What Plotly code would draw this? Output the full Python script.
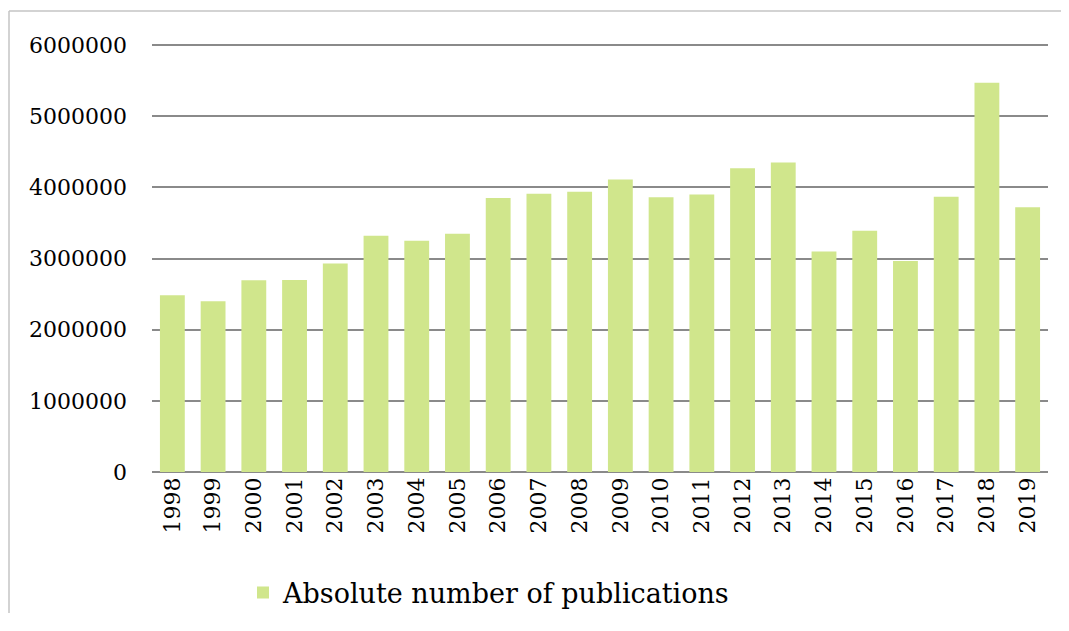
import plotly.graph_objects as go

years = ["1998", "1999", "2000", "2001", "2002", "2003", "2004", "2005", "2006", "2007", "2008",
         "2009", "2010", "2011", "2012", "2013", "2014", "2015", "2016", "2017", "2018", "2019"]
publications = [2485000, 2400000, 2695000, 2700000, 2930000, 3320000, 3250000, 3350000, 3850000,
                3910000, 3940000, 4110000, 3860000, 3900000, 4270000, 4350000, 3100000, 3390000,
                2965000, 3870000, 5470000, 3720000]
y_ticks = [0, 1000000, 2000000, 3000000, 4000000, 5000000, 6000000]
series_name = "Absolute number of publications"

PAGE_W, PAGE_H = 1069, 631
OFF = 8  # page body margin
W, H = PAGE_W - OFF, PAGE_H - 2 * OFF - 10
# plot area in page pixels
PL, PR, PT, PB = 152, 1048, 44, 472
L = PL - OFF
T = PT - OFF
pw = PR - PL
ph = PB - PT
R = W - L - pw
B = H - T - ph

def px_x(p):
    return (p - PL) / pw

def px_y(p):
    return (PB - p) / ph

fig = go.Figure()
fig.add_trace(go.Bar(
    x=years, y=publications, name=series_name,
    marker=dict(color="#d0e68c", line=dict(width=0)),
    showlegend=True,
))

fig.update_layout(
    width=W, height=H,
    margin=dict(l=L, r=R, t=T, b=B, autoexpand=False),
    paper_bgcolor="white", plot_bgcolor="white",
    font=dict(family="DejaVu Serif", size=22, color="#000000"),
    bargap=0.39,
    showlegend=True,
    legend=dict(xref="container", yref="container", x=(243 - OFF) / W, y=1 - (593 - OFF) / H,
                xanchor="left", yanchor="middle", orientation="h",
                font=dict(family="DejaVu Serif", size=27, color="#000000"),
                itemwidth=30),
    xaxis=dict(tickangle=-90, showgrid=False, showline=False, ticks="",
               tickfont=dict(size=22)),
    yaxis=dict(range=[0, 6015000], tickvals=y_ticks, ticktext=[str(v) for v in y_ticks],
               showgrid=True, gridcolor="#8a8a8a", gridwidth=1.8,
               zeroline=True, zerolinecolor="#8a8a8a", zerolinewidth=1.8,
               showline=False, ticks="", ticklabelstandoff=24,
               tickfont=dict(size=22)),
    shapes=[
        dict(type="line", xref="paper", yref="paper", x0=px_x(9), x1=px_x(OFF + W + 5),
             y0=px_y(11), y1=px_y(11), line=dict(color="#c4c4c4", width=1.5)),
        dict(type="line", xref="paper", yref="paper", x0=px_x(9), x1=px_x(9),
             y0=px_y(11), y1=px_y(OFF + H + 5), line=dict(color="#c4c4c4", width=1.5)),
    ],
)

fig.write_html("out.html")
